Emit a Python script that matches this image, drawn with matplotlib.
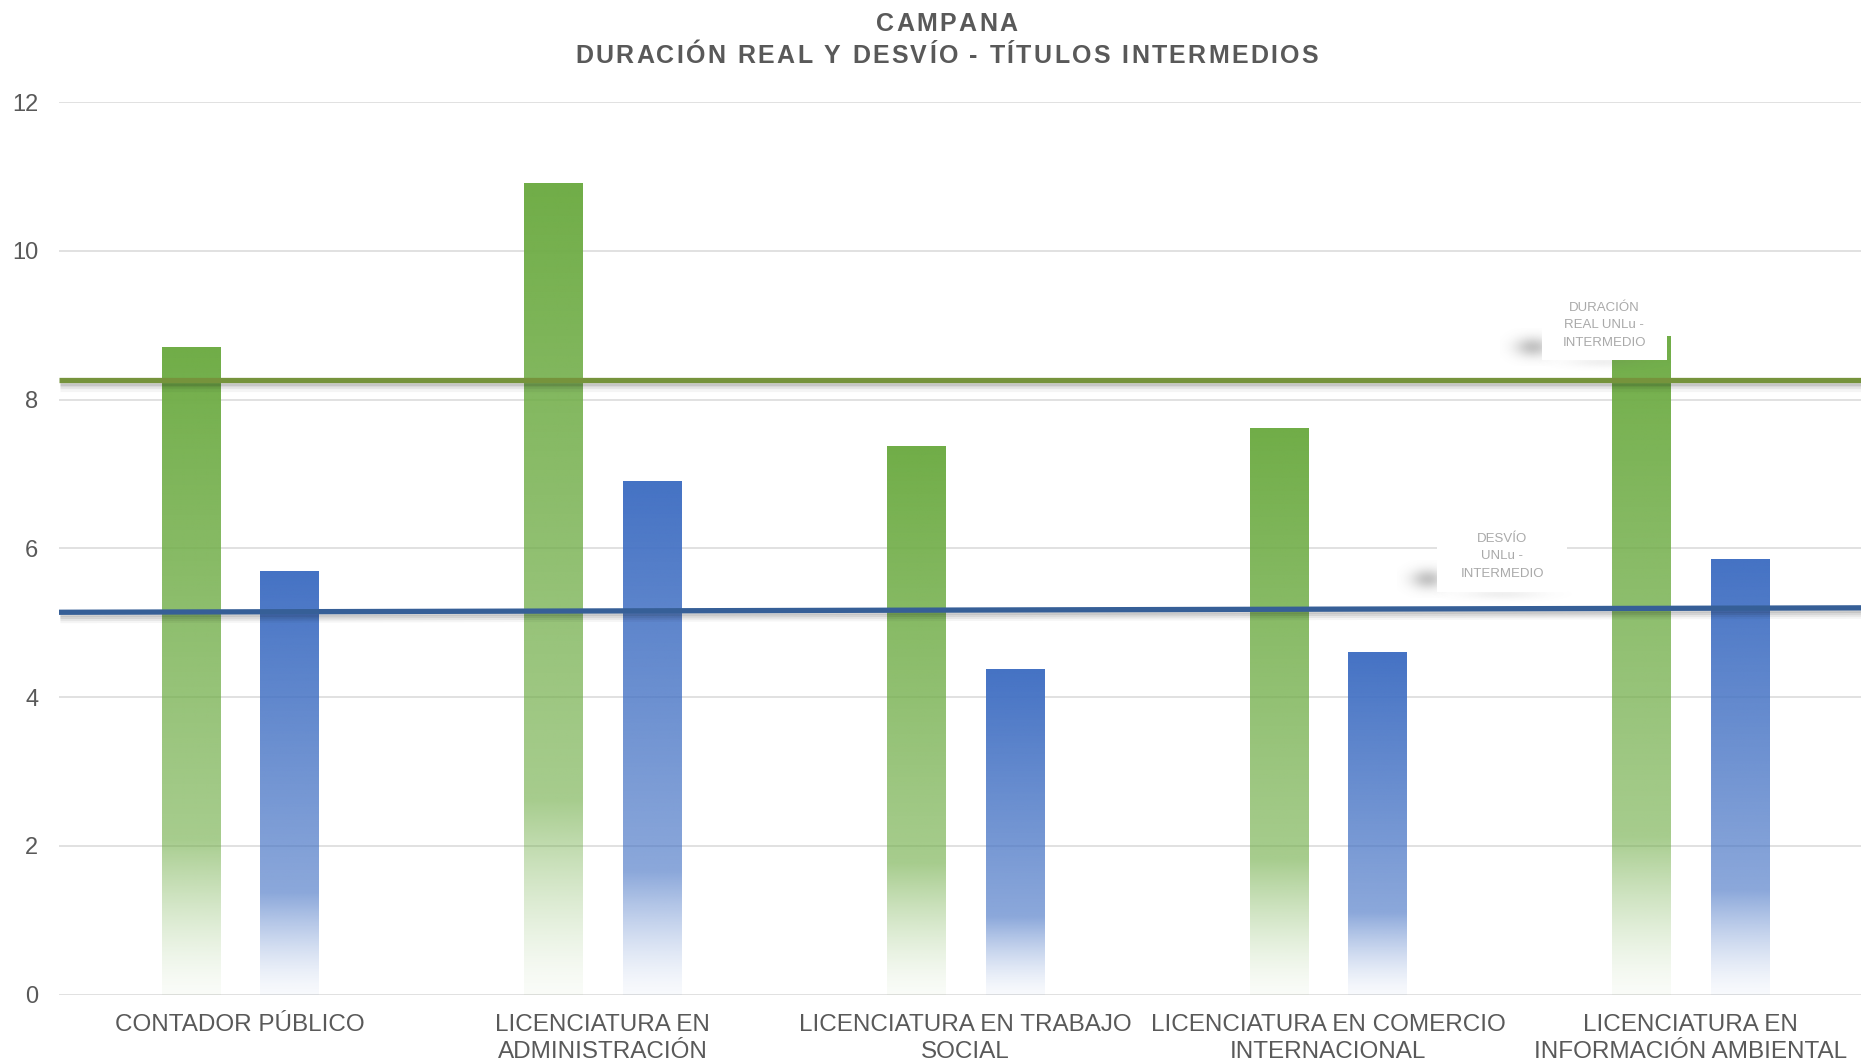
import numpy as np
import matplotlib
matplotlib.use("Agg")
import matplotlib.pyplot as plt
from matplotlib import patheffects as pe
from matplotlib.patches import Rectangle
from matplotlib.font_manager import FontProperties, findfont
from matplotlib.ft2font import FT2Font

# ---------------------------------------------------------------- data
categories = [
    "CONTADOR PÚBLICO",
    "LICENCIATURA EN\nADMINISTRACIÓN",
    "LICENCIATURA EN TRABAJO\nSOCIAL",
    "LICENCIATURA EN COMERCIO\nINTERNACIONAL",
    "LICENCIATURA EN\nINFORMACIÓN AMBIENTAL",
]
duracion_real = [8.70, 10.91, 7.37, 7.61, 8.85]
desvio = [5.70, 6.91, 4.37, 4.61, 5.85]
# UNLu reference lines, value at left and right edge of the plot
duracion_unlu = [8.26, 8.26]
desvio_unlu = [5.14, 5.20]
y_ticks = [0, 2, 4, 6, 8, 10, 12]
title_lines = ["CAMPANA", "DURACIÓN REAL Y DESVÍO - TÍTULOS INTERMEDIOS"]
label_duracion = ["DURACIÓN", "REAL UNLu -", "INTERMEDIO"]
label_desvio = ["DESVÍO", "UNLu -", "INTERMEDIO"]

# ---------------------------------------------------------------- style
FONT = "Liberation Sans"
TEXT = "#595959"
GREEN = "#70AD47"
BLUE = "#4472C4"
GREEN_LINE = "#76933C"
BLUE_LINE = "#365F97"
GRID = "#D9D9D9"

W, H, DPI = 1861, 1063, 100
fig = plt.figure(figsize=(W / DPI, H / DPI), dpi=DPI)
fig.patch.set_facecolor("white")

# plot area runs slightly past the right border of the canvas
ax = fig.add_axes([59 / W, 1 - 994.6 / H, 1813 / W, (994.6 - 102) / H])
ax.set_facecolor("none")
ax.set_xlim(-0.5, len(categories) - 0.5)
ax.set_ylim(0, 12)
ax.set_autoscale_on(False)
for s in ax.spines.values():
    s.set_visible(False)

ax.set_yticks(y_ticks)
ax.set_yticklabels([str(t) for t in y_ticks], fontsize=17, color=TEXT, family=FONT)
ax.tick_params(axis="y", length=0, pad=15)
ax.set_xticks(range(len(categories)))
ax.set_xticklabels(categories, fontsize=17.5, color=TEXT, family=FONT, linespacing=1.28)
ax.tick_params(axis="x", length=0, pad=14)
ax.yaxis.grid(True, color=GRID, linewidth=1.1, zorder=0)
ax.set_axisbelow(True)


# ---------------------------------------------------------------- bars with vertical fade
def fade_alpha(n=400, stop=0.24):
    f = np.linspace(0, 1, n)
    a = np.where(
        f >= stop,
        0.62 + (f - stop) / (1 - stop) * 0.38,
        0.04 + 0.58 * (f / stop) ** 1.4,
    )
    return a


def gradient_bar(ax, xc, width, height, color):
    rgb = matplotlib.colors.to_rgb(color)
    a = fade_alpha()
    img = np.zeros((a.size, 1, 4))
    img[..., 0], img[..., 1], img[..., 2] = rgb
    img[:, 0, 3] = a
    ax.imshow(img, extent=[xc - width / 2, xc + width / 2, 0, height],
              origin="lower", aspect="auto", interpolation="bilinear", zorder=2)


bar_w = 0.161
offset = 0.136
x = np.arange(len(categories))
for i in range(len(categories)):
    gradient_bar(ax, x[i] - offset, bar_w, duracion_real[i], GREEN)
    gradient_bar(ax, x[i] + offset, bar_w, desvio[i], BLUE)

# ---------------------------------------------------------------- reference lines with soft shadow
shadow = [
    pe.SimpleLineShadow(offset=(1, -o), shadow_color="black", alpha=a, rho=1)
    for o, a in [(6.0, 0.04), (4.5, 0.06), (3.0, 0.08), (1.8, 0.10)]
] + [pe.Normal()]
edges = [-0.5, len(categories) - 0.5]
ax.plot(edges, duracion_unlu, color=GREEN_LINE, lw=3.8, solid_capstyle="butt",
        zorder=4, path_effects=shadow)
ax.plot(edges, desvio_unlu, color=BLUE_LINE, lw=3.8, solid_capstyle="butt",
        zorder=4, path_effects=shadow)


# ---------------------------------------------------------------- line labels (callouts)
def soft_blob(ax, x0, x1, y0, y1, peak, z):
    nx, ny = 120, 60
    X, Y = np.meshgrid(np.linspace(-1, 1, nx), np.linspace(-1, 1, ny))
    img = np.zeros((ny, nx, 4))
    img[..., :3] = 0.40
    img[..., 3] = peak * np.exp(-3.5 * (X ** 2 + Y ** 2))
    ax.imshow(img, extent=[x0, x1, y0, y1], origin="lower", aspect="auto",
              interpolation="bilinear", zorder=z)


def callout(ax, box, blob, xc, baselines, lines):
    bx0, bx1, by0, by1 = box
    soft_blob(ax, *blob, peak=0.38, z=5)
    soft_blob(ax, bx0 - 0.02, bx1 + 0.02, by0 - 0.16, by0 + 0.10, peak=0.10, z=5)
    ax.add_patch(Rectangle((bx0, by0), bx1 - bx0, by1 - by0, facecolor="white",
                           edgecolor="none", zorder=6))
    for yb, t in zip(baselines, lines):
        ax.text(xc, yb, t, ha="center", va="baseline", fontsize=9.5,
                color="#A9A9A9", family=FONT, zorder=7)


callout(ax, box=(3.590, 3.935, 8.53, 9.47), blob=(3.475, 3.655, 8.45, 8.95),
        xc=3.761, baselines=[9.19, 8.96, 8.72], lines=label_duracion)
callout(ax, box=(3.300, 3.659, 5.41, 6.35), blob=(3.190, 3.360, 5.33, 5.83),
        xc=3.480, baselines=[6.08, 5.85, 5.61], lines=label_desvio)


# ---------------------------------------------------------------- title with letter spacing
def spaced_text(text, x_center_px, baseline_px, size_pt, spacing_px):
    prop = FontProperties(family=FONT, weight="bold", size=size_pt)
    font = FT2Font(findfont(prop))
    font.set_size(size_pt, DPI)
    adv = [font.load_char(ord(ch)).linearHoriAdvance / 65536.0 for ch in text]
    total = sum(adv) + spacing_px * (len(text) - 1)
    xp = x_center_px - total / 2
    for ch, a in zip(text, adv):
        if ch != " ":
            fig.text((xp + a / 2) / W, 1 - baseline_px / H, ch, ha="center",
                     va="baseline", fontproperties=prop, color=TEXT)
        xp += a + spacing_px


spaced_text(title_lines[0], 946.6, 30.6, 18, 2.3)
spaced_text(title_lines[1], 946.6, 62.6, 18, 2.3)

fig.savefig("out.png", dpi=DPI, facecolor="white")
